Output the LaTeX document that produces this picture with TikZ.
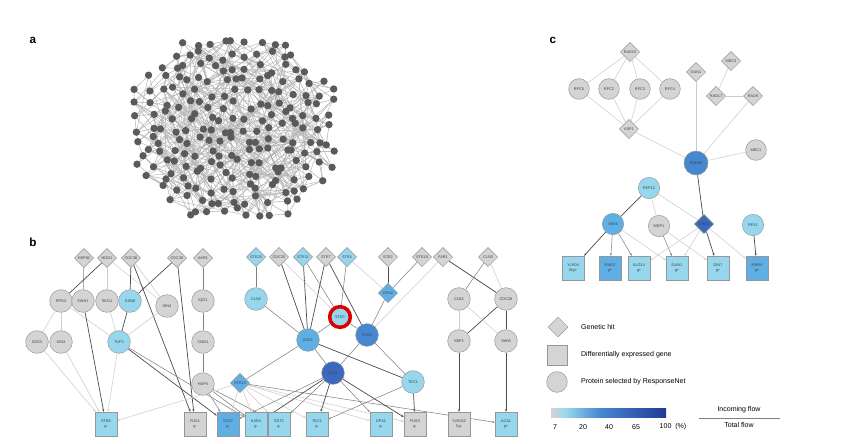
\documentclass[tikz,border=0pt]{standalone}
\usepackage{fontspec}
\setmainfont{Liberation Sans}
\usetikzlibrary{shapes.geometric,arrows.meta}
\definecolor{gfill}{RGB}{212,212,212}
\definecolor{gline}{RGB}{150,150,150}
\definecolor{lb}{RGB}{150,215,238}
\definecolor{mb}{RGB}{95,175,228}
\definecolor{db}{RGB}{70,135,210}
\definecolor{vb}{RGB}{60,105,190}
\definecolor{dot}{RGB}{90,90,90}
\pgfdeclarelayer{bg}\pgfsetlayers{bg,main}
\newcommand\myins[3]{\pgfmathtruncatemacro#1{((((#2)-9)*12/105)^2+(((#3)-8)*12/95)^2)<1}}
\begin{document}
\begin{tikzpicture}[x=0.03cm,y=-0.03cm,
  lab/.style={font=\fontsize{3.3}{3.8}\selectfont, text=black!75},
  gh/.style={diamond,aspect=1,draw=gline,fill=gfill,inner sep=0pt,minimum size=0.58cm,lab},
  pr/.style={circle,draw=gline,fill=gfill,inner sep=0pt,minimum size=0.68cm,lab},
  de/.style={rectangle,draw=gline,fill=gfill,inner sep=0pt,minimum width=0.66cm,minimum height=0.72cm,align=center,lab},
  e/.style={draw=black!50,line width=0.45pt},
  l/.style={draw=black!20,line width=0.45pt},
  d/.style={draw=black!70,line width=0.6pt},
  a/.style={-{Stealth[length=2.2pt,width=1.8pt]}},
  hd/.style={font=\fontsize{10}{12}\selectfont\bfseries}]
\useasboundingbox (0,0) rectangle (843,443);
\begin{pgfonlayer}{bg}\fill[white] (0,0) rectangle (843,443);\end{pgfonlayer}
% panel labels
\node[hd] (la) at (33,40) {a};
\node[hd] (lbb) at (33,242) {b};
\node[hd] (lc) at (553,40) {c};
% panel a
\pgfmathsetseed{23}
\foreach \i in {0,...,18}{\foreach \j in {0,...,16}{
  \myins\ins{\i}{\j}
  \ifnum\ins=1
    \pgfmathsetmacro\xx{235+(\i-9)*12+rand*5}
    \pgfmathsetmacro\yy{128+(\j-8)*12+rand*5}
    \coordinate (p-\i-\j) at (\xx,\yy);
  \fi}}
\begin{pgfonlayer}{bg}
\foreach \i in {0,...,18}{\foreach \j in {0,...,16}{
  \myins\ins{\i}{\j}
  \ifnum\ins=1
    \foreach \di/\dj in {1/0,0/1,1/1,1/-1,2/1,1/2}{
      \pgfmathtruncatemacro\ti{\i+\di}\pgfmathtruncatemacro\tj{\j+\dj}
      \myins\ok{\ti}{\tj}
      \pgfmathtruncatemacro\r{rnd<0.5}
      \ifnum\ok=1 \ifnum\r=1 \draw[black!33,line width=0.4pt] (p-\i-\j) -- (p-\ti-\tj); \fi\fi}
    \foreach \k in {1,2,3}{
      \pgfmathrandominteger\di{-7}{7}\pgfmathrandominteger\dj{-7}{7}
      \pgfmathtruncatemacro\ti{\i+\di}\pgfmathtruncatemacro\tj{\j+\dj}
      \myins\ok{\ti}{\tj}
      \ifnum\ok=1 \draw[black!28,line width=0.4pt] (p-\i-\j) -- (p-\ti-\tj); \fi}
  \fi}}
\end{pgfonlayer}
\foreach \i in {0,...,18}{\foreach \j in {0,...,16}{
  \myins\ins{\i}{\j}
  \ifnum\ins=1 \fill[dot] (p-\i-\j) circle (0.11cm); \fi}}
% panel b nodes
\node[gh] (hsp) at (84,258) {HSP82};
\node[gh] (hog) at (107,258) {HOG1};
\node[gh] (c36) at (131,258) {CDC36};
\node[gh] (c39) at (177,258) {CDC39};
\node[gh] (akr) at (203,258) {AKR1};
\node[gh,fill=lb] (s20) at (256,257) {STE20};
\node[gh] (c25) at (279,257) {CDC25};
\node[gh,fill=lb] (s11) at (303,257) {STE11};
\node[gh] (s7) at (326,257) {STE7};
\node[gh,fill=lb] (s4) at (347,257) {STE4};
\node[gh] (s2g) at (388,257) {STE2};
\node[gh] (s18) at (422,257) {STE18};
\node[gh] (far) at (443,257) {FAR1};
\node[gh] (cln3) at (488,257) {CLN3};
\node[pr] (rpd) at (61,301) {RPD3};
\node[pr] (swh) at (83,301) {SWH1};
\node[pr] (sko) at (107,301) {SKO1};
\node[pr,fill=lb] (ssn) at (130,301) {SSN8};
\node[pr] (sin4) at (167,306) {SIN4};
\node[pr] (iqg) at (203,301) {IQG1};
\node[pr,fill=lb] (cln2) at (256,299) {CLN2};
\node[gh,fill=mb] (gpa2) at (388,293) {GPA2};
\node[pr] (clb2) at (459,299) {CLB2};
\node[pr] (c28) at (506,299) {CDC28};
\node[pr] (sds) at (37,342) {SDS3};
\node[pr] (sin3) at (61,342) {SIN3};
\node[pr,fill=lb] (tup) at (119,342) {TUP1};
\node[pr] (cmd) at (203,342) {CMD1};
\node[pr,fill=lb,draw=red!85!black,line width=3pt,minimum size=0.62cm] (ste5) at (340,317) {STE5};
\node[pr,fill=mb] (kss) at (308,340) {KSS1};
\node[pr,fill=db] (fus2) at (367,335) {FUS2};
\node[pr] (xbp) at (459,341) {XBP1};
\node[pr] (swi6) at (506,341) {SWI6};
\node[pr,fill=vb] (dig) at (333,373) {DIG1};
\node[pr,fill=lb] (tec) at (413,382) {TEC1};
\node[pr] (hap) at (203,384) {HAP5};
\node[gh,fill=mb] (s12) at (240,383) {STE12};
\node[de,fill=lb] (q6) at (106,424) {STE6\\g-};
\node[de] (qf1) at (195,424) {FUS1\\g-};
\node[de,fill=mb] (q2) at (228,424) {STE2\\g-};
\node[de,fill=lb] (qk) at (256,424) {KAR4\\g-};
\node[de,fill=lb] (qs) at (279,424) {SST2\\g-};
\node[de,fill=lb] (qt) at (317,424) {TEC1\\g-};
\node[de,fill=lb] (qg) at (381,424) {GPA1\\g-};
\node[de] (qf3) at (415,424) {FUS3\\g-};
\node[de] (qy) at (459,424) {YLR042\\Cg-};
\node[de,fill=lb] (qa) at (506,424) {ACA1\\g+};
% panel b edges
\begin{pgfonlayer}{bg}
\draw[e] (hsp)--(swh); \draw[d] (hog)--(rpd); \draw[l] (hog)--(sko); \draw[l] (hog)--(sin4);
\draw[d] (c36)--(ssn); \draw[l] (c36)--(sin4); \draw[d,a] (c36)--(qf1); \draw[d] (c39)--(ssn); \draw[d,a] (c39)--(qf1);
\draw[e] (akr)--(iqg); \draw[e] (iqg)--(cmd); \draw[e] (cmd)--(hap);
\draw[l] (rpd)--(sds); \draw[l] (rpd)--(sin3); \draw[l] (rpd)--(tup); \draw[l] (sko)--(tup); \draw[l] (sin4)--(tup);
\draw[d] (ssn)--(tup); \draw[d,a] (swh)--(q6); \draw[l,a] (sds)--(q6); \draw[l,a] (sin3)--(q6); \draw[l,a] (tup)--(q6);
\draw[d,a] (tup)--(q2); \draw[e,a] (tup)--(qk); \draw[e,a] (hap)--(q2); \draw[e,a] (hap)--(qk); \draw[e,a] (hap)--(qs);
\draw[l,a] (s12)--(q6); \draw[l,a] (s12)--(q2); \draw[l,a] (s12)--(qk); \draw[l,a] (s12)--(qs); \draw[l,a] (s12)--(qt);
\draw[l,a] (s12)--(qg); \draw[l,a] (s12)--(qf3); \draw[e,a] (s12)--(qa);
\draw[e] (s20)--(cln2); \draw[e] (cln2)--(kss); \draw[d] (c25)--(kss); \draw[d] (s11)--(kss); \draw[d] (s7)--(kss);
\draw[d] (s7)--(fus2); \draw[e] (s4)--(ste5); \draw[e] (s11)--(ste5); \draw[l] (c25)--(ste5); \draw[l] (s4)--(gpa2);
\draw[d] (s2g)--(gpa2); \draw[e] (s18)--(gpa2); \draw[e] (gpa2)--(fus2); \draw[l] (far)--(fus2);
\draw[d] (far)--(c28); \draw[e] (cln3)--(clb2); \draw[l] (cln3)--(c28);
\draw[e] (ste5)--(kss); \draw[e] (ste5)--(fus2); \draw[e] (kss)--(dig); \draw[e] (kss)--(s12); \draw[d] (kss)--(tec);
\draw[e] (fus2)--(dig); \draw[e] (fus2)--(tec); \draw[d,a] (dig)--(qk); \draw[e,a] (dig)--(qs); \draw[d,a] (dig)--(qt);
\draw[e,a] (dig)--(qg); \draw[d,a] (dig)--(qf3); \draw[e,a] (dig)--(q2); \draw[d,a] (tec)--(qf3); \draw[e,a] (tec)--(qt);
\draw[l] (clb2)--(xbp); \draw[d] (c28)--(xbp); \draw[d] (c28)--(swi6); \draw[l] (clb2)--(swi6);
\draw[d,a] (xbp)--(qy); \draw[d,a] (swi6)--(qa);
\end{pgfonlayer}
% panel c nodes
\node[gh] (rad24) at (630,52) {RAD24};
\node[pr,minimum size=0.62cm] (rfc5) at (579,89) {RFC5};
\node[pr,minimum size=0.62cm] (rfc2) at (609,89) {RFC2};
\node[pr,minimum size=0.62cm] (rfc3) at (640,89) {RFC3};
\node[pr,minimum size=0.62cm] (rfc4) at (670,89) {RFC4};
\node[gh] (asf) at (629,129) {ASF1};
\node[gh] (dun1g) at (696,72) {DUN1};
\node[gh] (mec3) at (731,61) {MEC3};
\node[gh] (rad17) at (716,96) {RAD17};
\node[gh] (rad9) at (753,96) {RAD9};
\node[pr,fill=db,minimum size=0.72cm] (rad53) at (696,163) {RAD53};
\node[pr,minimum size=0.62cm] (mec1) at (756,150) {MEC1};
\node[pr,fill=lb,minimum size=0.64cm] (pep) at (649,188) {PEP12};
\node[pr,fill=mb,minimum size=0.64cm] (swi4) at (613,224) {SWI4};
\node[pr,minimum size=0.64cm] (msp) at (659,226) {MSP1};
\node[gh,fill=vb] (chk) at (704,224) {CHK1};
\node[pr,fill=lb,minimum size=0.64cm] (rfx) at (753,225) {RFX1};
\node[de,fill=lb] (cy) at (573,268) {YLR04\\Wg+};
\node[de,fill=mb] (cr2) at (610,268) {RNR2\\g+};
\node[de,fill=lb] (cal) at (639,268) {ALG14\\g+};
\node[de,fill=lb] (cd1) at (677,268) {DUN1\\g+};
\node[de,fill=lb] (cd7) at (718,268) {DIN7\\g+};
\node[de,fill=mb] (cr4) at (757,268) {RNR4\\g+};
% panel c edges
\begin{pgfonlayer}{bg}
\draw[l] (rad24)--(rfc5); \draw[l] (rad24)--(rfc2); \draw[l] (rad24)--(rfc3); \draw[l] (rad24)--(rfc4);
\draw[l] (rfc5)--(asf); \draw[l] (rfc2)--(asf); \draw[l] (rfc3)--(asf); \draw[l] (rfc4)--(asf);
\draw[l] (asf)--(rad53); \draw[l] (dun1g)--(rad53); \draw[l] (mec3)--(rad17); \draw[l] (rad17)--(rad9);
\draw[l] (rad9)--(rad53); \draw[l] (mec1)--(rad53); \draw[d] (rad53)--(chk);
\draw[d] (pep)--(swi4); \draw[l] (pep)--(msp); \draw[l] (pep)--(chk);
\draw[d,a] (swi4)--(cy); \draw[e,a] (swi4)--(cr2); \draw[e,a] (swi4)--(cal); \draw[l,a] (swi4)--(cd1);
\draw[e,a] (msp)--(cd1); \draw[l,a] (msp)--(cd7); \draw[l,a] (chk)--(cal); \draw[l,a] (chk)--(cd1);
\draw[d,a] (chk)--(cd7); \draw[l,a] (chk)--(cr4); \draw[d,a] (rfx)--(cr4);
\end{pgfonlayer}
% legend
\node[gh,minimum size=0.6cm] (lg1) at (558,327) {};
\node[de,minimum width=0.6cm,minimum height=0.6cm] (lg2) at (557,355) {};
\node[pr,minimum size=0.62cm] (lg3) at (557,382) {};
\node[anchor=west,font=\fontsize{6}{7}\selectfont] (lt1) at (577,327) {Genetic hit};
\node[anchor=west,font=\fontsize{6}{7}\selectfont] (lt2) at (577,355) {Differentially expressed gene};
\node[anchor=west,font=\fontsize{6}{7}\selectfont] (lt3) at (577,382) {Protein selected by ResponseNet};
\shade[left color=gfill,right color=lb] (551,408) rectangle (566,417);
\shade[left color=lb,right color=db] (566,408) rectangle (600,417);
\shade[left color=db,right color={rgb,255:red,35;green,55;blue,150}] (600,408) rectangle (666,417);
\foreach \v/\px in {7/555,20/583,40/609,65/636}{\node[font=\fontsize{6}{7}\selectfont] (cb\v) at (\px,427) {\v};}
\node[font=\fontsize{6}{7}\selectfont] (cb100) at (673,427) {100\ \ (\%)};
\node[font=\fontsize{6}{7}\selectfont] (fin) at (739,410) {Incoming flow};
\node[font=\fontsize{6}{7}\selectfont] (fto) at (739,425) {Total flow};
\coordinate (fl1) at (699,418); \coordinate (fl2) at (780,418);
\draw[gray,line width=0.6pt] (fl1)--(fl2);
\end{tikzpicture}
\end{document}
